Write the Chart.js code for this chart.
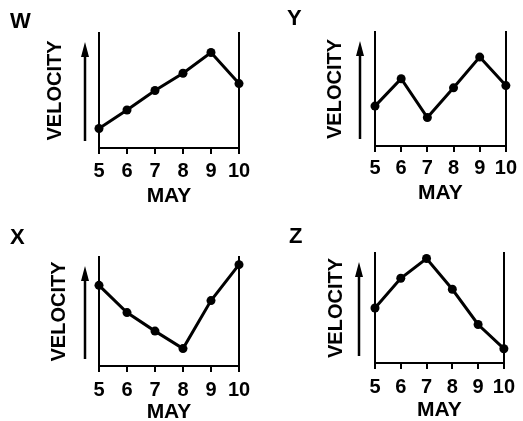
<!DOCTYPE html>
<html><head><meta charset="utf-8">
<script src="https://cdn.jsdelivr.net/npm/chart.js@4"></script>
<style>
html,body{margin:0;padding:0;background:#fff;}
#wrap{position:relative;width:523px;height:421px;background:#fff;overflow:hidden;}
canvas{position:absolute;}
</style></head><body>
<div id="wrap">
<canvas id="cW" width="262" height="210" style="left:0px;top:0px"></canvas>
<canvas id="cY" width="261" height="210" style="left:262px;top:0px"></canvas>
<canvas id="cX" width="262" height="211" style="left:0px;top:210px"></canvas>
<canvas id="cZ" width="261" height="211" style="left:262px;top:210px"></canvas>
</div>
<script>
// ---- data ----
const days = ['5', '6', '7', '8', '9', '10'];
const panelLetters = ['W', 'Y', 'X', 'Z'];
const velocityW = [17, 33, 50, 65, 83, 56];
const velocityY = [35, 59, 25, 51, 78, 53];
const velocityX = [74, 49, 32, 16, 60, 93];
const velocityZ = [50, 77, 95, 67, 35, 13];
const xAxisTitle = 'MAY';
const yAxisTitle = 'VELOCITY';

// ---- layout (pixels inside each panel canvas) ----
const layouts = {
  W: {id: 'cW', w: 262, h: 210, left: 99, right: 239, top: 33, bottom: 148, letterLeft: 10, letterCy: 22, yTitleCx: 55, tickCy: 171, mayCy: 196, arrowDx: 14},
  Y: {id: 'cY', w: 261, h: 210, left: 113, right: 247, top: 32, bottom: 146, letterLeft: 25, letterCy: 19, yTitleCx: 73, tickCy: 168, mayCy: 193, arrowDx: 15},
  X: {id: 'cX', w: 262, h: 211, left: 99, right: 239, top: 47, bottom: 156, letterLeft: 10, letterCy: 28, yTitleCx: 59, tickCy: 180, mayCy: 202, arrowDx: 14},
  Z: {id: 'cZ', w: 261, h: 211, left: 113, right: 247, top: 43, bottom: 153, letterLeft: 27, letterCy: 27, yTitleCx: 74, tickCy: 177, mayCy: 200, arrowDx: 16}
};
const seriesByLetter = {W: velocityW, Y: velocityY, X: velocityX, Z: velocityZ};

const FONT = '"Liberation Sans", Arial, Helvetica, sans-serif';

const arrowPlugin = {
  id: 'velocityArrow',
  afterDraw(chart, args, opts) {
    const a = chart.chartArea;
    const ctx = chart.ctx;
    const x = a.left - opts.dx;
    const yTop = a.top + 9;
    const yBot = a.bottom - 7;
    ctx.save();
    ctx.strokeStyle = '#000';
    ctx.fillStyle = '#000';
    ctx.lineWidth = 2.5;
    ctx.beginPath();
    ctx.moveTo(x, yBot);
    ctx.lineTo(x, yTop + 10);
    ctx.stroke();
    ctx.beginPath();
    ctx.moveTo(x, yTop);
    ctx.lineTo(x - 4, yTop + 15);
    ctx.lineTo(x + 4, yTop + 15);
    ctx.closePath();
    ctx.fill();
    ctx.restore();
  }
};

function makePanel(letter) {
  const L = layouts[letter];
  const titleLH = 2 * (L.top - L.letterCy);
  const tickLen = 6;
  const tickLH = 20;
  const mayLH = 22;
  const velLH = 20;
  new Chart(document.getElementById(L.id), {
    type: 'line',
    data: {
      labels: days,
      datasets: [{
        data: seriesByLetter[letter],
        borderColor: '#000',
        backgroundColor: '#000',
        borderWidth: 3,
        pointRadius: 4.5,
        pointBackgroundColor: '#000',
        pointBorderColor: '#000',
        pointBorderWidth: 0,
        tension: 0,
        clip: false
      }]
    },
    options: {
      responsive: false,
      animation: false,
      devicePixelRatio: 1,
      layout: {padding: {left: L.letterLeft, top: L.letterCy - titleLH / 2, right: L.w - L.right, bottom: 0}},
      plugins: {
        legend: {display: false},
        tooltip: {enabled: false},
        title: {
          display: true, text: letter, align: 'start', color: '#000',
          font: {family: FONT, size: 22, weight: 'bold', lineHeight: titleLH + 'px'},
          padding: 0
        },
        velocityArrow: {dx: L.arrowDx}
      },
      scales: {
        x: {
          type: 'category',
          offset: false,
          afterFit(s) { s.height = L.h - L.bottom; },
          grid: {display: true, drawOnChartArea: false, drawTicks: true, tickLength: tickLen, color: '#000', lineWidth: 2},
          border: {display: true, color: '#000', width: 2},
          ticks: {
            color: '#000', maxRotation: 0, autoSkip: false,
            font: {family: FONT, size: 20, weight: 'bold', lineHeight: tickLH + 'px'},
            padding: L.tickCy - L.bottom - tickLen - tickLH / 2
          },
          title: {
            display: true, text: xAxisTitle, color: '#000',
            font: {family: FONT, size: 21, weight: 'bold', lineHeight: mayLH + 'px'},
            padding: {top: 0, bottom: L.h - L.mayCy - mayLH / 2}
          }
        },
        y: {
          position: 'left',
          min: 0, max: 100,
          afterFit(s) { s.width = L.left - L.letterLeft; },
          grid: {display: false, drawTicks: false},
          border: {display: true, color: '#000', width: 2},
          ticks: {display: false},
          title: {
            display: true, text: yAxisTitle, color: '#000',
            font: {family: FONT, size: 20, weight: 'bold', lineHeight: velLH + 'px'},
            padding: {top: L.yTitleCx - L.letterLeft - velLH / 2, bottom: 0}
          }
        },
        y2: {
          position: 'right',
          min: 0, max: 100,
          afterFit(s) { s.width = 0; },
          grid: {display: false, drawTicks: false},
          border: {display: true, color: '#000', width: 2},
          ticks: {display: false}
        }
      }
    },
    plugins: [arrowPlugin]
  });
}

panelLetters.forEach(makePanel);
</script>
</body></html>
